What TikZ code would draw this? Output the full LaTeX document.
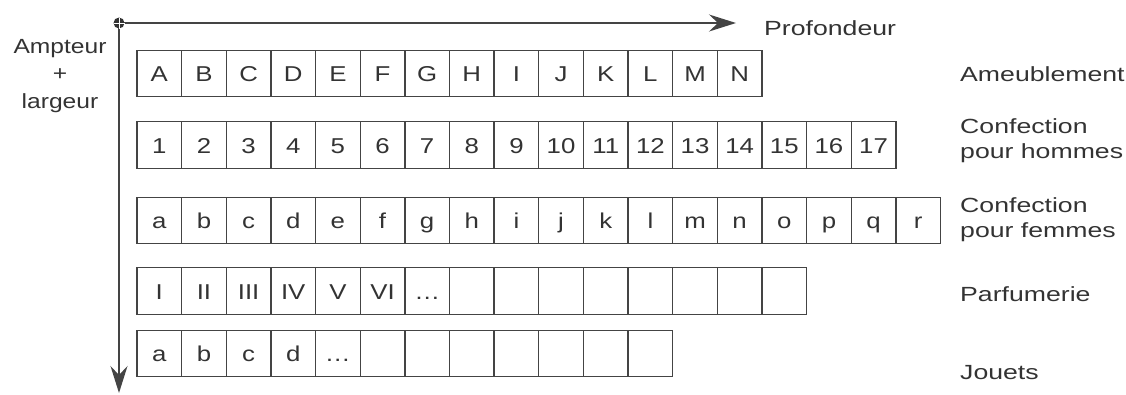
\documentclass[tikz,border=0pt]{standalone}
\usepackage{fontspec}
\setmainfont{Liberation Sans}
\newfontfamily\cellfont[FakeStretch=1.2]{Liberation Sans}
\newfontfamily\labfont[FakeStretch=1.3]{Liberation Sans}
\usetikzlibrary{arrows.meta}
\definecolor{ink}{HTML}{333333}
\definecolor{linec}{HTML}{444444}
\begin{document}
\begin{tikzpicture}[x=1pt,y=-1pt,
  cell/.style={draw=linec,line width=1.4pt,minimum width=44.64pt,minimum height=46.5pt,
    inner sep=0pt,outer sep=0pt,text=ink,text height=16pt,text depth=0pt,
    font=\cellfont\fontsize{21.5}{22}\selectfont},
  lab/.style={anchor=west,inner sep=0pt,text=ink,align=left,font=\labfont\fontsize{20.5}{25}\selectfont},
  axis/.style={draw=linec,line width=1.5pt},
  tip/.style={-{Stealth[length=27pt,width=17pt,inset=9pt]}}]
\useasboundingbox (0,0) rectangle (1126,394);
% axes
\coordinate (O) at (119,23);
\coordinate (xend) at (736,23);
\coordinate (yend) at (119,393);
\draw[axis,tip] (O) -- (xend);
\draw[axis,tip] (O) -- (yend);
\fill[black!80] (O) circle (5.5pt);
\draw[white,line width=0.8pt] ([xshift=-5.5pt]O) -- ([xshift=5.5pt]O) ([yshift=-5.5pt]O) -- ([yshift=5.5pt]O);
\node[lab] (prof) at (764,28) {Profondeur};
\node[inner sep=0pt,align=center,text=ink,font=\cellfont\fontsize{20.5}{27.5}\selectfont] (amp) at (60,76) {Ampteur\\+\\largeur};
% row 1
\foreach \t [count=\i] in {A,B,C,D,E,F,G,H,I,J,K,L,M,N}
  \node[cell] (ra\i) at ({137+(\i-0.5)*44.64},73.5) {\t};
% row 2
\foreach \t [count=\i] in {1,2,3,4,5,6,7,8,9,10,11,12,13,14,15,16,17}
  \node[cell] (rb\i) at ({137+(\i-0.5)*44.64},145) {\t};
% row 3
\foreach \t [count=\i] in {a,b,c,d,e,f,g,h,i,j,k,l,m,n,o,p,q,r}
  \node[cell] (rc\i) at ({137+(\i-0.5)*44.64},220.5) {\t};
% row 4
\foreach \t [count=\i] in {I,II,III,IV,V,VI,\ldots,{},{},{},{},{},{},{},{}}
  \node[cell] (rd\i) at ({137+(\i-0.5)*44.64},291) {\t};
% row 5
\foreach \t [count=\i] in {a,b,c,d,\ldots,{},{},{},{},{},{},{}}
  \node[cell] (re\i) at ({137+(\i-0.5)*44.64},353.5) {\t};
% right labels
\node[lab] (l1) at (960,74) {Ameublement};
\node[lab] (l2) at (960,140.5) {Confection\\pour hommes};
\node[lab] (l3) at (960,219.5) {Confection\\pour femmes};
\node[lab] (l4) at (960,294) {Parfumerie};
\node[lab] (l5) at (960,373) {Jouets};
\end{tikzpicture}
\end{document}
